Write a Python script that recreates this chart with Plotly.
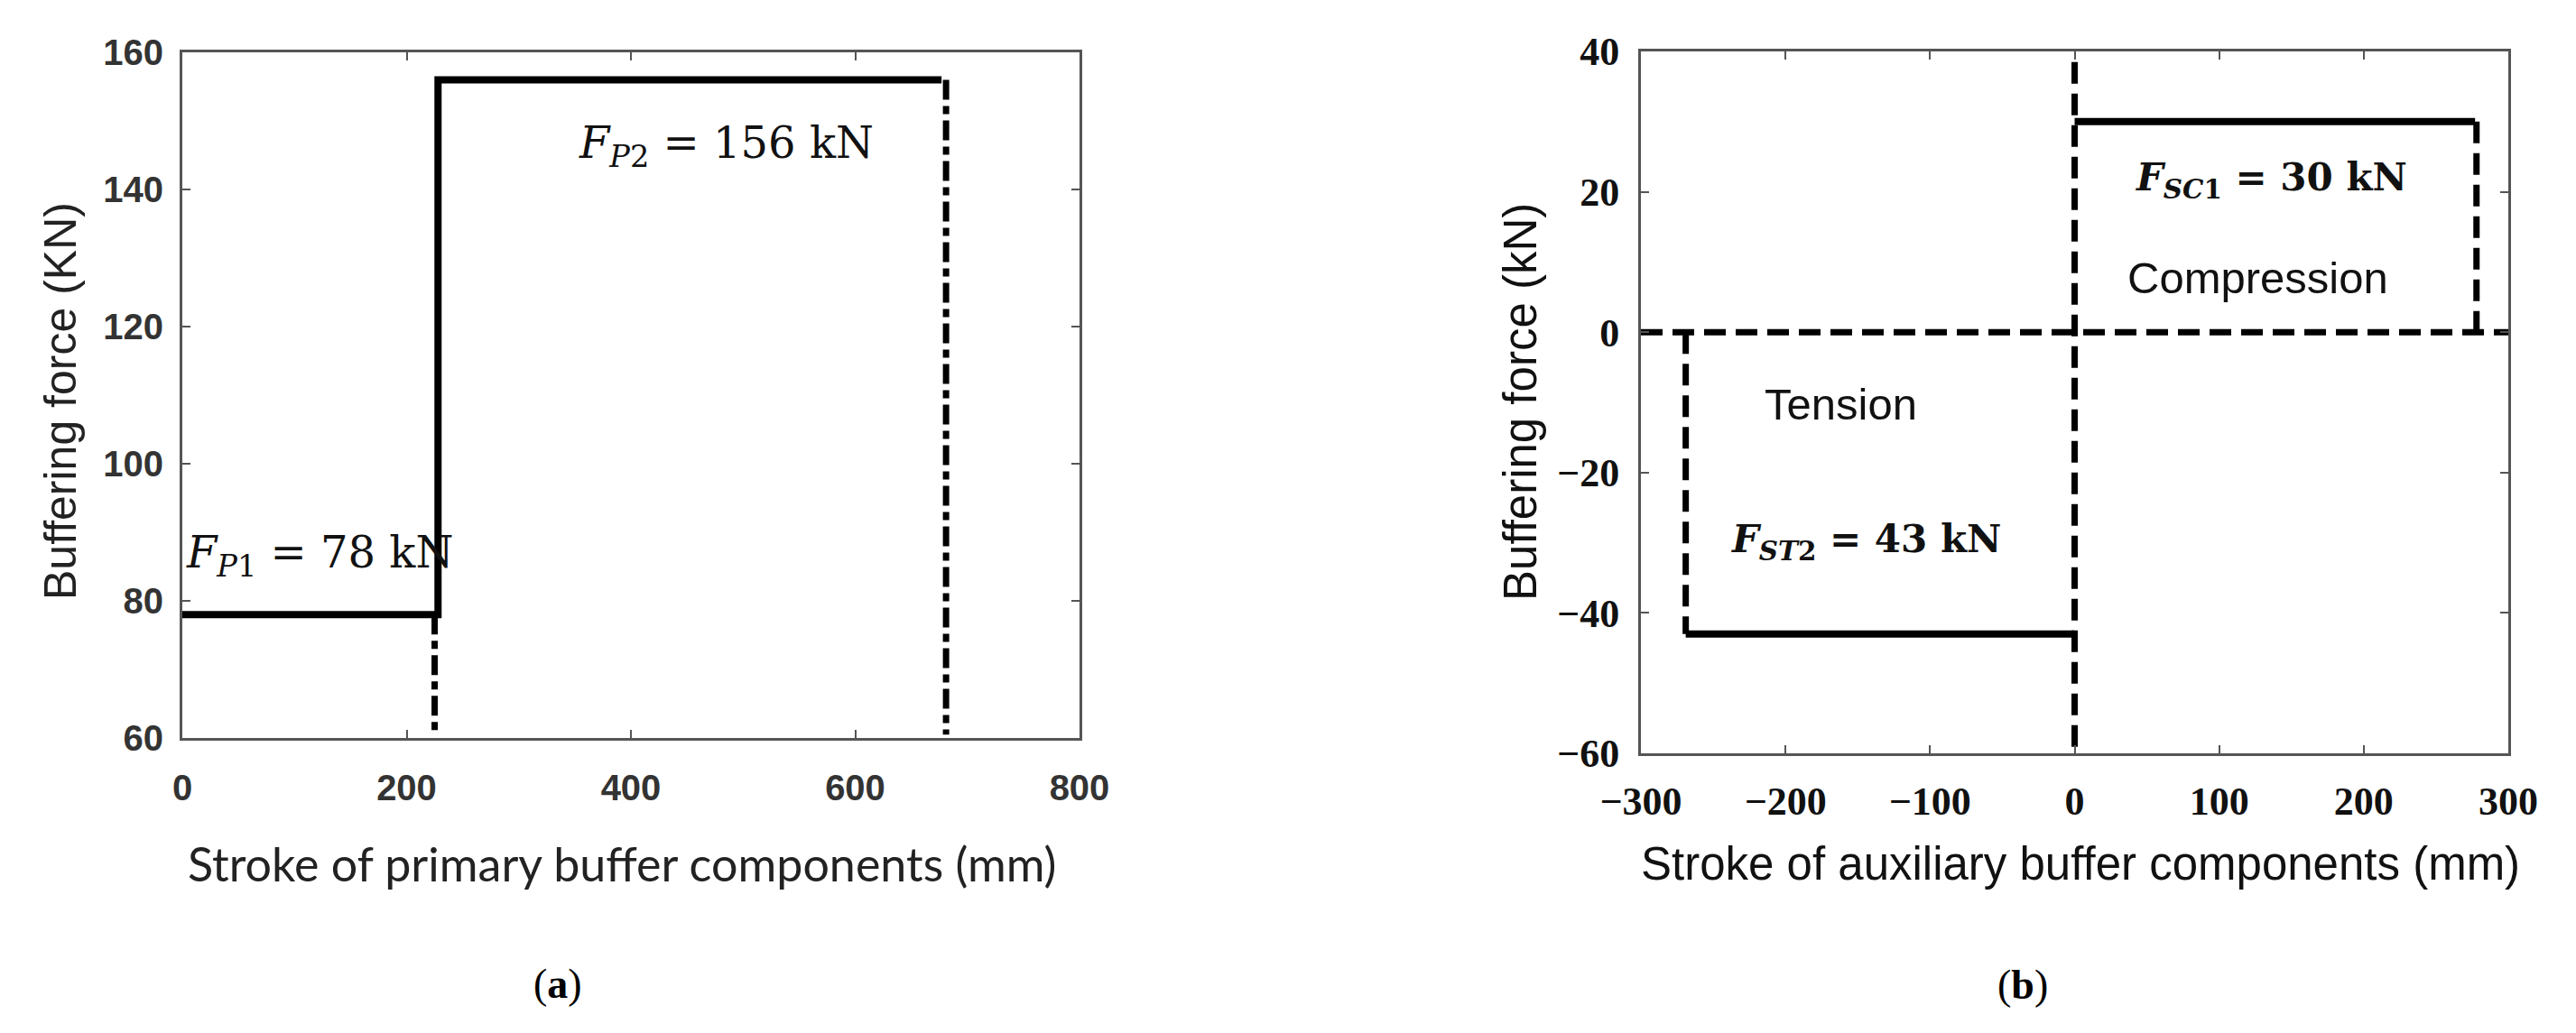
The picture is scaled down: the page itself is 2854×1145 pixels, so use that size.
import plotly.graph_objects as go

# ---- panel (a): primary buffer components ----
prim_solid_x = [0, 228, 228, 677]
prim_solid_y = [78, 78, 156, 156]
prim_dash_x = [225, 225, None, 681, 681]
prim_dash_y = [78, 61, None, 156, 60.5]
prim_xticks = [0, 200, 400, 600, 800]
prim_yticks = [60, 80, 100, 120, 140, 160]

# ---- panel (b): auxiliary buffer components ----
aux_solid_x = [0, 277, None, -269, 0]
aux_solid_y = [30, 30, None, -43, -43]
aux_dash_x = [0, 0, None, -300, 300, None, 278, 278, None, -269, -269]
aux_dash_y = [38.5, -60, None, 0, 0, None, 30, 0, None, 0, -43]
aux_xticks = [-300, -200, -100, 0, 100, 200, 300]
aux_yticks = [-60, -40, -20, 0, 20, 40]

# page has an 8px body margin, so lay out relative to that
OFF = 8
W, H = 2854 - 2 * OFF, 1145 - 2 * OFF


def px(v):
    return (v - OFF) / W


def py(v):
    return 1 - (v - OFF) / H


fig = go.Figure()

fig.add_trace(go.Scatter(x=prim_solid_x, y=prim_solid_y, mode='lines',
                         line=dict(color='black', width=8), xaxis='x', yaxis='y'))
fig.add_trace(go.Scatter(x=prim_dash_x, y=prim_dash_y, mode='lines',
                         line=dict(color='black', width=7, dash='22px,7px,9px,7px'),
                         xaxis='x', yaxis='y'))
fig.add_trace(go.Scatter(x=aux_dash_x, y=aux_dash_y, mode='lines',
                         line=dict(color='black', width=7, dash='24px,11px'),
                         xaxis='x2', yaxis='y2'))
fig.add_trace(go.Scatter(x=aux_solid_x, y=aux_solid_y, mode='lines',
                         line=dict(color='black', width=8), xaxis='x2', yaxis='y2'))

axis_common = dict(showline=True, linecolor='#555', linewidth=3, mirror='allticks',
                   ticks='inside', ticklen=9, tickwidth=2, tickcolor='#555',
                   showgrid=False, zeroline=False, automargin=False)

font_a = dict(family='Liberation Sans, Arial', size=40, color='#333', weight='bold')
font_b = dict(family='Liberation Serif, Times New Roman', size=44, color='#111', weight='bold')

fig.update_layout(
    width=W, height=H, autosize=False,
    margin=dict(l=0, r=0, t=0, b=0, autoexpand=False),
    paper_bgcolor='white', plot_bgcolor='white',
    showlegend=False,
    xaxis=dict(axis_common, domain=[px(202), px(1196)], range=[0, 800],
               tickvals=prim_xticks, tickfont=font_a, ticklabelstandoff=18, anchor='y'),
    yaxis=dict(axis_common, domain=[py(818), py(58)], range=[60, 160],
               tickvals=prim_yticks, tickfont=font_a, ticklabelstandoff=10, anchor='x'),
    xaxis2=dict(axis_common, domain=[px(1818), px(2779)], range=[-300, 300],
                tickvals=aux_xticks, tickfont=font_b, ticklabelstandoff=12, anchor='y2'),
    yaxis2=dict(axis_common, domain=[py(835), py(57)], range=[-60, 40],
                tickvals=aux_yticks, tickfont=font_b, ticklabelstandoff=12, anchor='x2'),
)

sans = 'Liberation Sans, Arial'
math_font = 'DejaVu Serif'

annots = [
    # axis titles
    dict(text='Stroke of primary buffer components (mm)', xref='paper', yref='paper',
         x=px(689), y=py(957), font=dict(family='Lato', size=52, color='#222')),
    dict(text='Buffering force (KN)', xref='paper', yref='paper', textangle=-90,
         x=px(67), y=py(445), font=dict(family=sans, size=50, color='#222')),
    dict(text='Stroke of auxiliary buffer components (mm)', xref='paper', yref='paper',
         x=px(2305), y=py(957), font=dict(family=sans, size=51, color='#111')),
    dict(text='Buffering force (kN)', xref='paper', yref='paper', textangle=-90,
         x=px(1684), y=py(446), font=dict(family=sans, size=51, color='#111')),
    # panel labels
    dict(text='(<b>a</b>)', xref='paper', yref='paper', x=px(618), y=py(1090),
         font=dict(family='Liberation Serif', size=46, color='black')),
    dict(text='(<b>b</b>)', xref='paper', yref='paper', x=px(2241), y=py(1091),
         font=dict(family='Liberation Serif', size=46, color='black')),
    # in-plot labels
    dict(text='<i>F</i><sub><i>P</i>2</sub> = 156 kN', xref='x', yref='y', x=485, y=146.4,
         font=dict(family=math_font, size=48, color='#111')),
    dict(text='<i>F</i><sub><i>P</i>1</sub> = 78 kN', xref='x', yref='y', x=122.7, y=86.6,
         font=dict(family=math_font, size=48, color='#111')),
    dict(text='<b><i>F</i><sub><i>SC</i>1</sub> = 30 kN</b>', xref='x2', yref='y2', x=136, y=21.7,
         font=dict(family=math_font, size=42, color='#111')),
    dict(text='Compression', xref='x2', yref='y2', x=127, y=7.7,
         font=dict(family=sans, size=49, color='#111')),
    dict(text='Tension', xref='x2', yref='y2', x=-162, y=-10.3,
         font=dict(family=sans, size=49, color='#111')),
    dict(text='<b><i>F</i><sub><i>ST</i>2</sub> = 43 kN</b>', xref='x2', yref='y2', x=-144, y=-29.8,
         font=dict(family=math_font, size=42, color='#111')),
]
for a in annots:
    a.update(showarrow=False, xanchor='center', yanchor='middle')
fig.update_layout(annotations=annots)

fig.write_html("out.html")
